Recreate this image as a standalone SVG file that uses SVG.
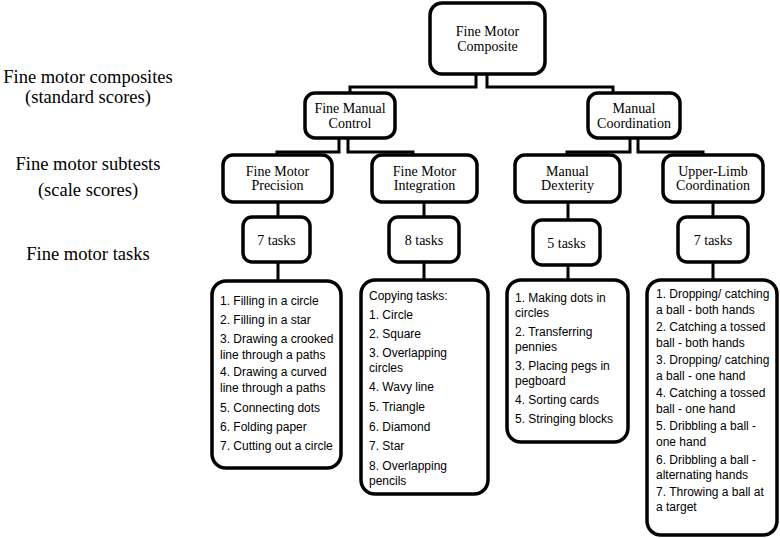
<svg xmlns="http://www.w3.org/2000/svg" width="780" height="538" viewBox="0 0 780 538">
<style>
.box{fill:#fff;stroke:#000;stroke-width:3.5}
.con{fill:none;stroke:#000;stroke-width:3}
.t{font-family:"Liberation Serif","Times New Roman",serif;font-size:14px;fill:#000;text-anchor:middle}
.lab{font-family:"Liberation Serif","Times New Roman",serif;font-size:18.5px;fill:#000;text-anchor:middle}
.li{font-family:"Liberation Sans",Arial,sans-serif;font-size:12px;fill:#000}
</style>
<rect width="780" height="538" fill="#fff"/>
<g id="labels">
<text class="lab" x="88" y="83">Fine motor composites</text>
<text class="lab" x="88" y="103">(standard scores)</text>
<text class="lab" x="88" y="170">Fine motor subtests</text>
<text class="lab" x="88" y="196">(scale scores)</text>
<text class="lab" x="88" y="260">Fine motor tasks</text>
</g>
<g id="connectors">
<path class="con" d="M476,74 V87 H350 V93"/>
<path class="con" d="M487,74 V87 H613 V93"/>
<path class="con" d="M339,138 V152 H277 V155"/>
<path class="con" d="M348,138 V152 H413 V155"/>
<path class="con" d="M630,138 V152 H567 V155"/>
<path class="con" d="M638,138 V152 H703 V155"/>
<path class="con" d="M278,202 V281"/>
<path class="con" d="M424,202 V280"/>
<path class="con" d="M568,202 V280"/>
<path class="con" d="M713,202 V280"/>
</g>
<g id="composite">
<rect class="box" x="430" y="3" width="115" height="71" rx="12"/>
<text class="t" x="487.5" y="36">Fine Motor</text>
<text class="t" x="487.5" y="51">Composite</text>
</g>
<g id="fine-manual-control">
<rect class="box" x="305" y="93" width="90" height="45" rx="10"/>
<text class="t" x="350" y="113">Fine Manual</text>
<text class="t" x="350" y="128">Control</text>
</g>
<g id="manual-coordination">
<rect class="box" x="588" y="93" width="92" height="45" rx="10"/>
<text class="t" x="634" y="113">Manual</text>
<text class="t" x="634" y="128">Coordination</text>
</g>
<g id="fine-motor-precision">
<rect class="box" x="223" y="155" width="109" height="47" rx="10"/>
<text class="t" x="277.5" y="176">Fine Motor</text>
<text class="t" x="277.5" y="190">Precision</text>
</g>
<g id="fine-motor-integration">
<rect class="box" x="372" y="155" width="105" height="47" rx="10"/>
<text class="t" x="424.5" y="176">Fine Motor</text>
<text class="t" x="424.5" y="190">Integration</text>
</g>
<g id="manual-dexterity">
<rect class="box" x="515" y="155" width="105" height="47" rx="10"/>
<text class="t" x="567.5" y="176">Manual</text>
<text class="t" x="567.5" y="190">Dexterity</text>
</g>
<g id="upper-limb-coordination">
<rect class="box" x="663" y="155" width="100" height="47" rx="10"/>
<text class="t" x="713" y="176">Upper-Limb</text>
<text class="t" x="713" y="190">Coordination</text>
</g>
<g id="tasks-precision">
<rect class="box" x="243" y="217" width="67" height="45" rx="9"/>
<text class="t" x="276.5" y="245">7 tasks</text>
</g>
<g id="tasks-integration">
<rect class="box" x="389" y="217" width="70" height="45" rx="9"/>
<text class="t" x="424" y="245">8 tasks</text>
</g>
<g id="tasks-dexterity">
<rect class="box" x="533" y="220" width="67" height="45" rx="9"/>
<text class="t" x="566.5" y="248">5 tasks</text>
</g>
<g id="tasks-upper-limb">
<rect class="box" x="678" y="217" width="70" height="45" rx="9"/>
<text class="t" x="713" y="245">7 tasks</text>
</g>
<g id="list-precision">
<rect class="box" x="212" y="281" width="129" height="187" rx="14"/>
<text class="li" x="220" y="305">1. Filling in a circle</text>
<text class="li" x="220" y="324">2. Filling in a star</text>
<text class="li" x="220" y="343">3. Drawing a crooked</text>
<text class="li" x="220" y="359">line through a paths</text>
<text class="li" x="220" y="376">4. Drawing a curved</text>
<text class="li" x="220" y="392">line through a paths</text>
<text class="li" x="220" y="412">5. Connecting dots</text>
<text class="li" x="220" y="431">6. Folding paper</text>
<text class="li" x="220" y="450">7. Cutting out a circle</text>
</g>
<g id="list-integration">
<rect class="box" x="361" y="280" width="127" height="214" rx="14"/>
<text class="li" x="369" y="300">Copying tasks:</text>
<text class="li" x="369" y="319">1. Circle</text>
<text class="li" x="369" y="338">2. Square</text>
<text class="li" x="369" y="357">3. Overlapping</text>
<text class="li" x="369" y="372">circles</text>
<text class="li" x="369" y="391">4. Wavy line</text>
<text class="li" x="369" y="411">5. Triangle</text>
<text class="li" x="369" y="431">6. Diamond</text>
<text class="li" x="369" y="450">7. Star</text>
<text class="li" x="369" y="470">8. Overlapping</text>
<text class="li" x="369" y="485">pencils</text>
</g>
<g id="list-dexterity">
<rect class="box" x="507" y="280" width="121" height="162" rx="14"/>
<text class="li" x="515" y="302">1. Making dots in</text>
<text class="li" x="515" y="317">circles</text>
<text class="li" x="515" y="336">2. Transferring</text>
<text class="li" x="515" y="351">pennies</text>
<text class="li" x="515" y="370">3. Placing pegs in</text>
<text class="li" x="515" y="385">pegboard</text>
<text class="li" x="515" y="404">4. Sorting cards</text>
<text class="li" x="515" y="423">5. Stringing blocks</text>
</g>
<g id="list-upper-limb">
<rect class="box" x="647" y="280" width="130" height="255" rx="14"/>
<text class="li" x="656" y="298">1. Dropping/ catching</text>
<text class="li" x="656" y="314">a ball - both hands</text>
<text class="li" x="656" y="331">2. Catching a tossed</text>
<text class="li" x="656" y="347">ball - both hands</text>
<text class="li" x="656" y="364">3. Dropping/ catching</text>
<text class="li" x="656" y="380">a ball - one hand</text>
<text class="li" x="656" y="397">4. Catching a tossed</text>
<text class="li" x="656" y="413">ball - one hand</text>
<text class="li" x="656" y="430">5. Dribbling a ball -</text>
<text class="li" x="656" y="446">one hand</text>
<text class="li" x="656" y="464">6. Dribbling a ball -</text>
<text class="li" x="656" y="479">alternating hands</text>
<text class="li" x="656" y="496">7. Throwing a ball at</text>
<text class="li" x="656" y="511">a target</text>
</g>
</svg>
